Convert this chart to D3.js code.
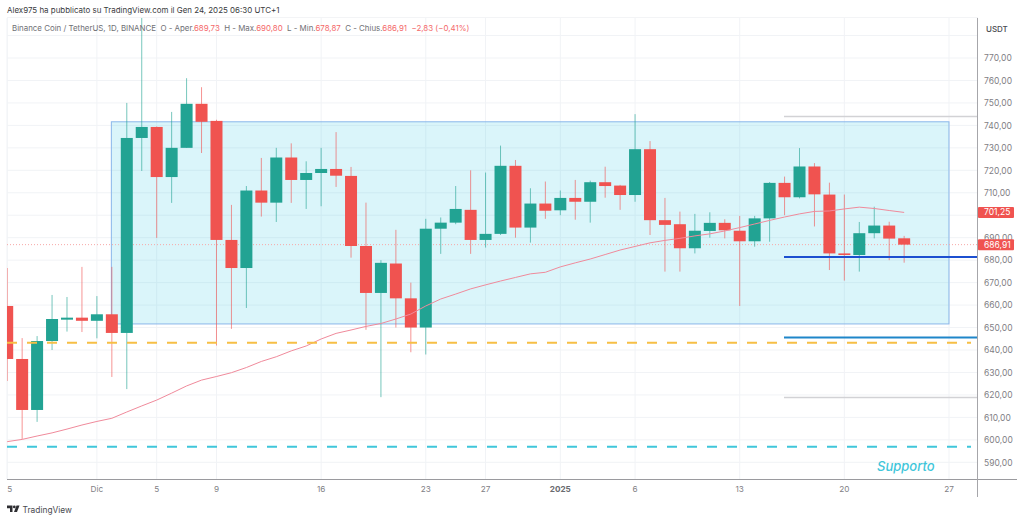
<!DOCTYPE html>
<html>
<head>
<meta charset="utf-8">
<script src="https://cdn.jsdelivr.net/npm/d3@7"></script>
<style>
html,body{margin:0;padding:0;background:#fff;}
text{font-family:Inter,"Noto Sans",sans-serif;}
</style>
</head>
<body>
<div id="chart"></div>
<script>
var days=["2024-11-25","2024-11-26","2024-11-27","2024-11-28","2024-11-29","2024-11-30",
"2024-12-01","2024-12-02","2024-12-03","2024-12-04","2024-12-05","2024-12-06","2024-12-07","2024-12-08","2024-12-09","2024-12-10",
"2024-12-11","2024-12-12","2024-12-13","2024-12-14","2024-12-15","2024-12-16","2024-12-17","2024-12-18","2024-12-19","2024-12-20",
"2024-12-21","2024-12-22","2024-12-23","2024-12-24","2024-12-25","2024-12-26","2024-12-27","2024-12-28","2024-12-29","2024-12-30","2024-12-31",
"2025-01-01","2025-01-02","2025-01-03","2025-01-04","2025-01-05","2025-01-06","2025-01-07","2025-01-08","2025-01-09","2025-01-10",
"2025-01-11","2025-01-12","2025-01-13","2025-01-14","2025-01-15","2025-01-16","2025-01-17","2025-01-18","2025-01-19","2025-01-20",
"2025-01-21","2025-01-22","2025-01-23","2025-01-24"];
var opens=[659.6,636,613.3,644,653.5,654.4,653,655.9,647.6,734.4,739.3,717,730,749.6,742,689,676.5,711,705.6,725.7,715.7,718.8,720.6,717.5,686.3,665.4,678.5,663,650,694,696.7,702.4,689,691.7,722,694.5,705.2,702.2,707.7,706,714.7,713.2,709,729.4,697.8,696,685.3,693,696.6,693.1,688.4,698.6,714.4,708,721.7,709.2,683,682.3,692,695.4,689.73];
var highs=[676.5,645.3,646.2,664.5,663.6,677,664,677,750,788,739.5,746,761,757,742.5,704.6,713,725.5,730,732,724,730,737,721.5,705.6,680,693.5,670,698.4,699,713,720,719,731,724.6,712,715,711,715.7,715.4,721.6,713.5,745,733,707.7,701.6,700.6,701.3,698.2,699.7,699.7,714.8,717.2,729.9,723.2,714.5,709.2,697,703.8,697.1,690.8];
var lows=[626.2,600.4,608,640,648.2,648,645.2,628,622.6,719.7,689.9,705.5,730,727.7,642,649.4,658.7,699.4,697,705.5,702.8,704,712.6,681.1,649,619,650,639,638,682.8,696,682.8,685.6,691.2,690,687.8,698.4,700,698,696.7,707.8,702.4,706,691.2,674.9,674.9,683,690,689.7,659.6,686,688.2,700,707.5,695,675.6,670.9,674.9,689.7,680,678.87];
var closes=[636,613.3,644,653.8,654.4,653,655.9,647.6,734.4,739.3,717,730,749.6,741.6,689,676.5,711,705.6,725.7,715.7,718.8,720.6,717.6,686.3,665.4,678.8,663,650,694,696.7,702.8,689,691.7,722,694.5,705.2,702,707.7,706,714.7,713,709,729.4,697.8,695.7,685.3,693.1,696.6,693.3,688.4,698.6,714.4,708,721.7,709.3,683,682.3,692,695.4,689.6,686.91];
var maLine=[599.2,600.2,601.7,603.1,604.8,606.6,608.2,609.6,612.4,615.1,617.7,620.8,624,626.6,628.2,629.9,632.2,634.9,637,639.6,641.8,644.9,647.4,648.9,650.5,651.8,653.8,656,659.6,662.7,664.9,667.2,669,670.7,672.3,673.9,674.6,677,678.8,680.5,682.5,684.5,686.1,687.7,688.8,689.7,690.8,691.7,693,694.5,696.1,697.7,699.2,700.6,701.7,701.9,702.8,703.6,703,702.1,701.25];
var priceTicks=[590,600,610,620,630,640,650,660,670,680,690,700,710,720,730,740,750,760,770,780];
var priceLabels=[590,600,610,620,630,640,650,660,670,680,690,710,720,730,740,750,760,770];
var timeTicks=["2024-11-25","2024-12-01","2024-12-05","2024-12-09","2024-12-16","2024-12-23","2024-12-27","2025-01-01","2025-01-06","2025-01-13","2025-01-20","2025-01-27"];
var timeLabels=["5","Dic","5","9","16","23","27","2025","6","13","20","27"];
var lastClose=686.91,lastMa=701.25;
var boxTop=741.6,boxBottom=651.6;
var segments=[{v:743.9,c:"#d2d2d5",w:1.5},{v:681.4,c:"#1c4fd0",w:2},{v:645.6,c:"#1f86c9",w:2},{v:618.9,c:"#d2d2d5",w:1.5}];
var dashes=[{v:643.2,c:"#f6bf45"},{v:596.9,c:"#3fc6da"}];

var wide=1024,high=521;
var paneL=7,paneR=978,paneT=18,paneB=479;
var parse=d3.utcParse("%Y-%m-%d");
var svg=d3.select("#chart").append("svg")
  .attr("width",wide).attr("height",high)
  .style("display","block");
var x=d3.scaleUtc()
  .domain([parse("2024-11-25"),parse("2025-01-27")])
  .range([7.2,949]);
var y=d3.scaleLinear().domain([640,770]).range([350,58]);

svg.append("clipPath").attr("id","pane").append("rect")
  .attr("x",paneL).attr("y",paneT).attr("width",paneR-paneL).attr("height",paneB-paneT);

// grid
var grid=svg.append("g").attr("clip-path","url(#pane)");
grid.selectAll(".gh").data(priceTicks).enter().append("line")
  .attr("x1",paneL).attr("x2",paneR)
  .attr("y1",function(d){return y(d);}).attr("y2",function(d){return y(d);})
  .attr("stroke","#f1f3f6");
grid.selectAll(".gv").data(timeTicks).enter().append("line")
  .attr("y1",paneT).attr("y2",paneB)
  .attr("x1",function(d){return x(parse(d));}).attr("x2",function(d){return x(parse(d));})
  .attr("stroke","#f1f3f6");
svg.append("line").attr("x1",paneL).attr("x2",paneR).attr("y1",17.5).attr("y2",17.5).attr("stroke","#f3f4f6");
svg.append("line").attr("x1",paneL).attr("x2",paneL).attr("y1",18).attr("y2",paneB).attr("stroke","#f1f3f6");

// box
svg.append("rect")
  .attr("x",x(parse("2024-12-02"))-0.5)
  .attr("y",y(boxTop))
  .attr("width",x(parse("2025-01-27"))-x(parse("2024-12-02"))+0.5)
  .attr("height",y(boxBottom)-y(boxTop))
  .attr("fill","#22c3e0").attr("fill-opacity",0.17)
  .attr("stroke","#8ab6ea").attr("stroke-width",1);

var plot=svg.append("g").attr("clip-path","url(#pane)");

// last price dotted line
plot.append("line")
  .attr("x1",paneL).attr("x2",paneR)
  .attr("y1",y(lastClose)).attr("y2",y(lastClose))
  .attr("stroke","#f7a9a7").attr("stroke-dasharray","1 2");

// wicks + bodies
var up="#22a393",down="#f05350";
var idx=d3.range(days.length);
plot.selectAll(".wick").data(idx).enter().append("line")
  .attr("x1",function(i){return x(parse(days[i]));})
  .attr("x2",function(i){return x(parse(days[i]));})
  .attr("y1",function(i){return y(highs[i]);})
  .attr("y2",function(i){return y(lows[i]);})
  .attr("stroke",function(i){return closes[i]>=opens[i]?up:down;})
  .attr("stroke-opacity",0.62);
plot.selectAll(".body").data(idx).enter().append("rect")
  .attr("x",function(i){return x(parse(days[i]))-6;})
  .attr("width",12)
  .attr("y",function(i){return y(Math.max(opens[i],closes[i]));})
  .attr("height",function(i){return Math.max(1.5,Math.abs(y(opens[i])-y(closes[i])));})
  .attr("fill",function(i){return closes[i]>=opens[i]?up:down;});

// moving average
var line=d3.line()
  .x(function(d,i){return x(parse(days[i]));})
  .y(function(d){return y(d);});
plot.append("path").datum(maLine)
  .attr("d",line)
  .attr("fill","none").attr("stroke","#f08a9b").attr("stroke-width",1);

// drawn levels
svg.selectAll(".seg").data(segments).enter().append("line")
  .attr("x1",784).attr("x2",paneR)
  .attr("y1",function(d){return y(d.v);}).attr("y2",function(d){return y(d.v);})
  .attr("stroke",function(d){return d.c;}).attr("stroke-width",function(d){return d.w;});
svg.selectAll(".dash").data(dashes).enter().append("line")
  .attr("x1",7).attr("x2",971)
  .attr("y1",function(d){return y(d.v);}).attr("y2",function(d){return y(d.v);})
  .attr("stroke",function(d){return d.c;}).attr("stroke-width",2)
  .attr("stroke-dasharray","10 10");

svg.append("text").attr("x",877).attr("y",470.5)
  .attr("font-size",13).attr("font-style","italic").attr("font-weight",500)
  .attr("fill","#3fc6da").text("Supporto");

// axes lines
svg.append("line").attr("x1",7).attr("x2",1017).attr("y1",479.5).attr("y2",479.5).attr("stroke","#9a9a9e");
svg.append("line").attr("x1",977.5).attr("x2",977.5).attr("y1",18).attr("y2",497).attr("stroke","#a6a6aa");

// price labels
var axisY=d3.axisRight(y).tickValues(priceLabels).tickSize(0).tickPadding(0)
  .tickFormat(function(d){return d3.format(".2f")(d).replace(".",",");});
var gy=svg.append("g").attr("transform","translate(984,0)").call(axisY);
gy.select(".domain").remove();
gy.selectAll("text").attr("font-size",8.5).attr("fill","#7f8085").attr("font-family","Inter,sans-serif");

// time labels
var gx=svg.append("g");
gx.selectAll("text").data(timeTicks).enter().append("text")
  .attr("x",function(d,i){return i===0?x(parse(d))+2.5:x(parse(d));})
  .attr("y",492)
  .attr("text-anchor","middle")
  .attr("font-size",8.2)
  .attr("font-weight",function(d,i){return timeLabels[i]==="2025"?700:400;})
  .attr("fill",function(d,i){return timeLabels[i]==="2025"?"#6a6b70":"#7f8085";})
  .text(function(d,i){return timeLabels[i];});

// last value badges
var badges=[{v:lastMa,t:"701,25"},{v:lastClose,t:"686,91"}];
svg.selectAll(".badge").data(badges).enter().append("rect")
  .attr("x",978).attr("width",36).attr("height",11).attr("rx",1)
  .attr("y",function(d){return y(d.v)-5.5;})
  .attr("fill","#f05350");
svg.selectAll(".badgeText").data(badges).enter().append("text")
  .attr("x",984).attr("y",function(d){return y(d.v)+3;})
  .attr("font-size",8.5).attr("fill","#fff")
  .text(function(d){return d.t;});

svg.append("text").attr("x",986).attr("y",32).attr("font-size",8).attr("font-weight",500).attr("fill","#4a4b50").text("USDT");

// header and legend
svg.append("text").attr("x",7).attr("y",13.2).attr("font-size",7.95).attr("fill","#3a3b40")
  .text("Alex975 ha pubblicato su TradingView.com il Gen 24, 2025 06:30 UTC+1");
var legend=svg.append("text").attr("x",12).attr("y",31).attr("font-size",7.9).attr("fill","#6f7075");
var parts=[["Binance Coin / TetherUS, 1D, BINANCE  O - Aper.",0],["689,73",1],["  H - Max.",0],["690,80",1],["  L - Min.",0],["678,87",1],["  C - Chius.",0],["686,91  −2,83 (−0,41%)",1]];
legend.selectAll("tspan").data(parts).enter().append("tspan")
  .style("white-space","pre")
  .attr("fill",function(d){return d[1]?"#f4696a":"#6f7075";})
  .text(function(d){return d[0];});

// logo
var logo=svg.append("g").attr("transform","translate(7,505.5)").attr("fill","#2e2e32");
logo.append("path").attr("d","M0 0H5.5V6.5H3V2.8H0Z");
logo.append("circle").attr("cx",7.3).attr("cy",1.4).attr("r",1.4);
logo.append("path").attr("d","M9.5 0H12.5L10 6.5H7Z");
svg.append("text").attr("x",22.5).attr("y",512.5).attr("font-size",8.4).attr("fill","#4a4b50").text("TradingView");
</script>
</body>
</html>
